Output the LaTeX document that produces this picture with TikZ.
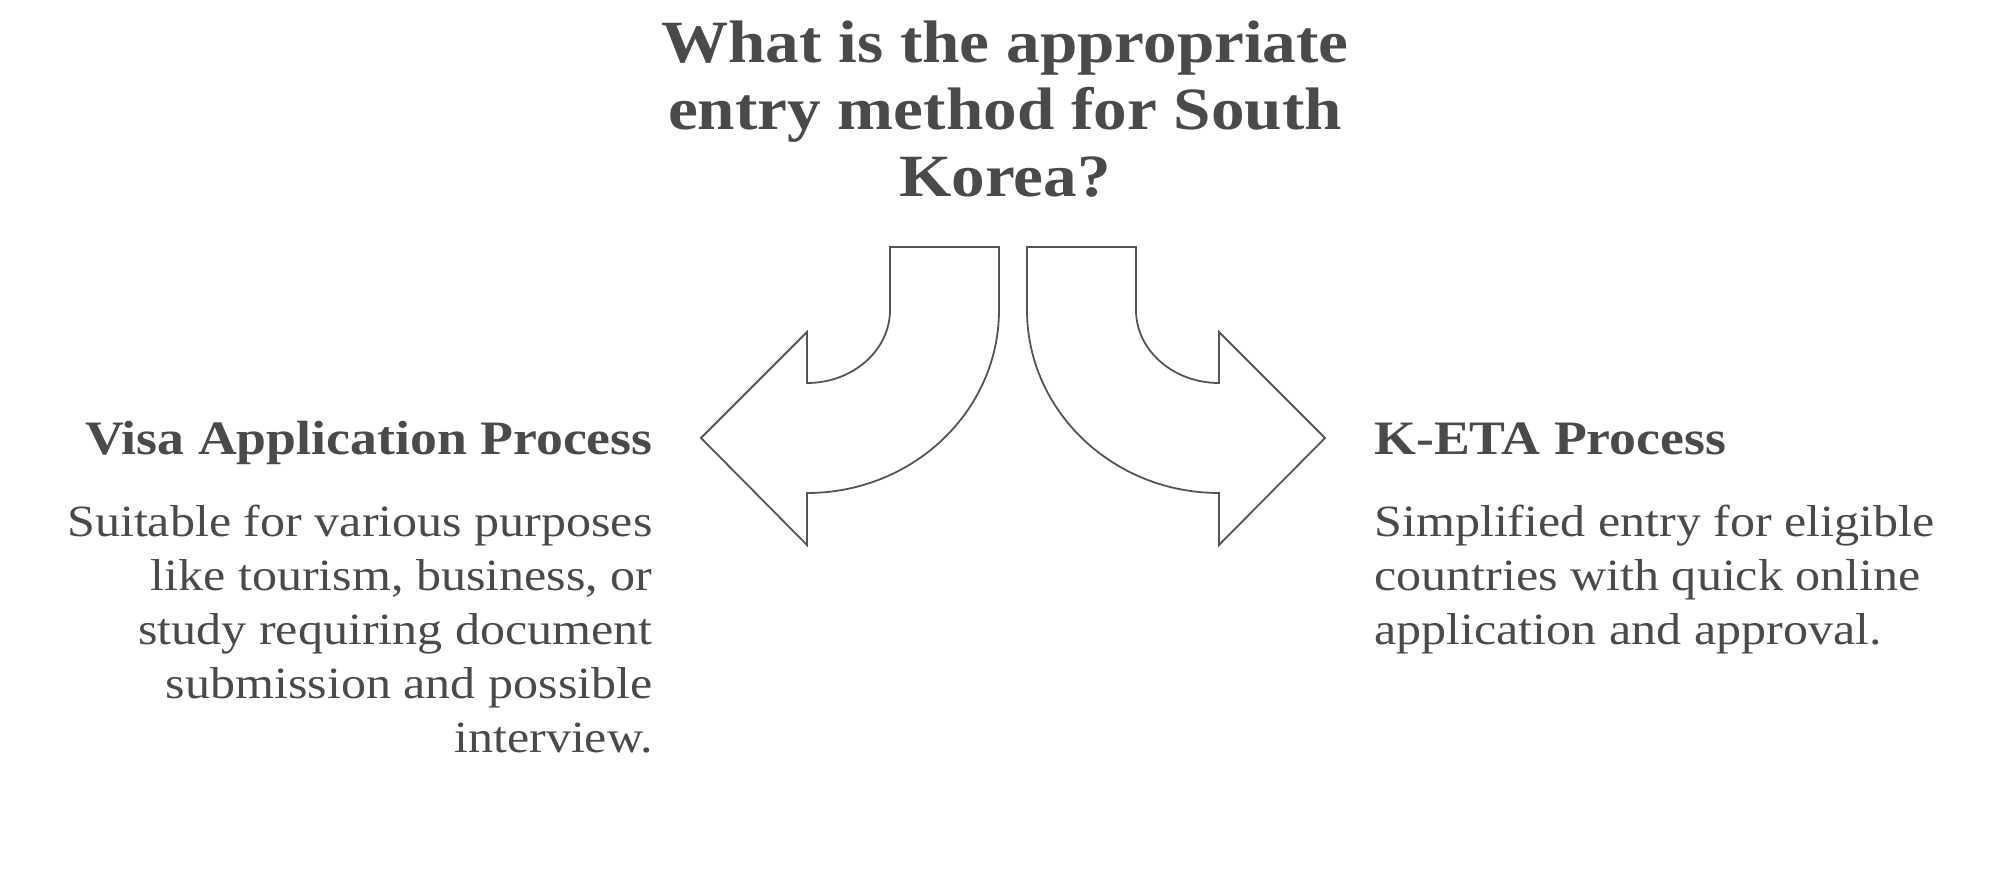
\documentclass[tikz,border=0pt]{standalone}
\usepackage{fontspec}
\setmainfont{Liberation Serif}[FakeStretch=1.12]
\usepackage{tikz}
\usetikzlibrary{calc,positioning}
\definecolor{inkgray}{RGB}{74,74,74}
\definecolor{linegray}{RGB}{85,85,85}

\begin{document}
\begin{tikzpicture}[
    x=0.5pt, y=0.5pt,
    question/.style={font=\fontsize{30}{33.5}\selectfont\bfseries, text=inkgray, align=center, inner sep=0pt},
    heading/.style={font=\fontsize{24}{27}\selectfont\bfseries, text=inkgray, inner sep=0pt},
    desc/.style={font=\fontsize{22.35}{27}\selectfont, text=inkgray, inner sep=0pt},
    bentarrow/.style={draw=linegray, line width=0.9pt, line join=miter, fill=white}
]
\useasboundingbox (0,0) rectangle (1999,878);

% Question on top (base = last line)
\node[question, anchor=base] (question) at (1005,681) {What is the appropriate\\ entry method for South\\ Korea?};

% Left bent arrow (visa)
\draw[bentarrow] (890,631) -- (999,631) -- (999,568)
    arc[start angle=0, end angle=-90, x radius=192, y radius=183]
    -- (807,333) -- (701,440) -- (807,546) -- (807,495)
    arc[start angle=-90, end angle=0, x radius=83, y radius=73] -- cycle;

% Right bent arrow (K-ETA)
\draw[bentarrow] (1136,631) -- (1027,631) -- (1027,568)
    arc[start angle=180, end angle=270, x radius=192, y radius=183]
    -- (1219,333) -- (1325,440) -- (1219,546) -- (1219,495)
    arc[start angle=270, end angle=180, x radius=83, y radius=73] -- cycle;

% Left option
\node[heading, anchor=base east] (visa) at (653,423) {Visa Application Process};
\node[desc, align=right, anchor=base east] (visadesc) at ($(visa.base east)+(0,-298)$)
    {Suitable for various purposes\\ like tourism, business, or\\ study requiring document\\ submission and possible\\ interview.};

% Right option
\node[heading, anchor=base west] (keta) at (1374,423) {K-ETA Process};
\node[desc, align=left, anchor=base west] (ketadesc) at ($(keta.base west)+(0,-190)$)
    {Simplified entry for eligible\\ countries with quick online\\ application and approval.};
\end{tikzpicture}
\end{document}
